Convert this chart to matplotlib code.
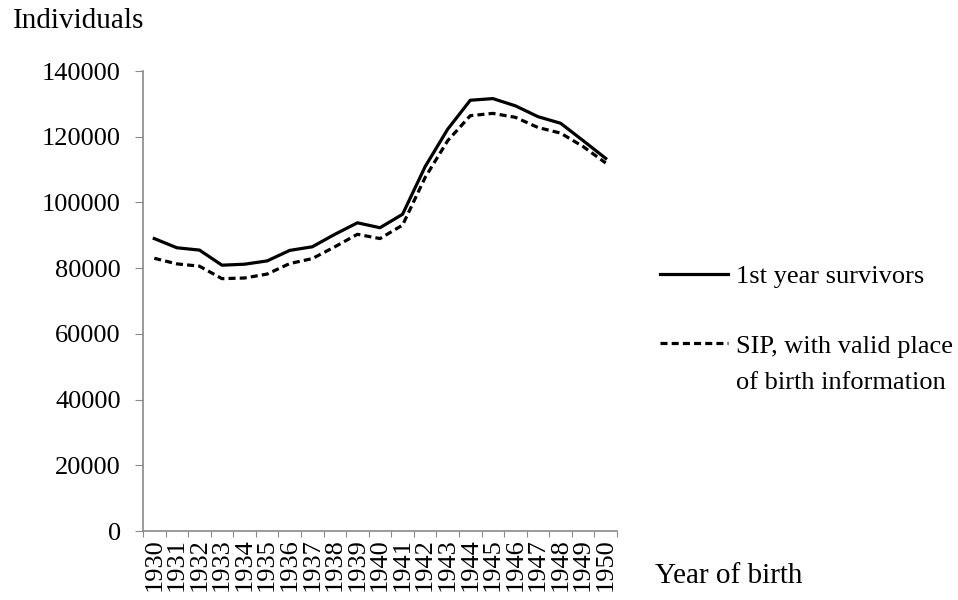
import matplotlib.pyplot as plt
import numpy as np

plt.rcParams['font.family'] = ['Liberation Serif', 'DejaVu Serif']

# year of birth categories
years = [str(y) for y in range(1930, 1951)]
# 1st year survivors
survivors = [89000, 86200, 85500, 80900, 81200, 82200, 85400, 86500, 90300, 93800,
             92300, 96400, 110900, 122300, 131100, 131600, 129400, 126100, 124100, 118800, 113400]
# SIP, with valid place of birth information
sip_valid = [83000, 81300, 80600, 76800, 77000, 78200, 81400, 82900, 86500, 90300,
             89000, 93100, 107600, 118800, 126400, 127100, 125900, 122800, 121100, 117000, 112000]
yticks = [0, 20000, 40000, 60000, 80000, 100000, 120000, 140000]

FS = 19
TITLE_FS = 21

fig = plt.figure(figsize=(9.58, 6), dpi=100)
ax = fig.add_axes([143/958, 1-531/600, (617-143)/958, (531-71)/600])

x = np.arange(len(years))
ax.plot(x, survivors, color='black', lw=2.3, label='1st year survivors')
ax.plot(x, sip_valid, color='black', lw=2.3, ls=(0, (2.2, 1.3)),
        label='SIP, with valid place')

ax.set_xlim(-0.5, len(years) - 0.5)
ax.set_ylim(0, 140000)
ax.set_yticks(yticks)
ax.set_yticklabels([str(v) for v in yticks], fontsize=FS)

# ticks at category boundaries, labels at centres
ax.set_xticks(np.arange(-0.5, len(years), 1.0))
ax.set_xticklabels([])
ax.set_xticks(x, minor=True)
ax.set_xticklabels(years, minor=True, rotation=90, fontsize=FS)
ax.tick_params(axis='x', which='major', length=4, color='#898989', direction='out')
ax.tick_params(axis='x', which='minor', length=0, pad=5)
ax.tick_params(axis='y', length=6, color='#898989', direction='out', pad=10)

for s in ['top', 'right']:
    ax.spines[s].set_visible(False)
for s in ['left', 'bottom']:
    ax.spines[s].set_color('#898989')
    ax.spines[s].set_linewidth(1.2)

fig.text(13/958, 1-21/600, 'Individuals', fontsize=TITLE_FS, va='center', ha='left')
fig.text(655/958, 1-576/600, 'Year of birth', fontsize=TITLE_FS, va='center', ha='left')

leg = fig.legend(loc='upper left', bbox_to_anchor=(660/958, 1-265/600), frameon=False,
                 fontsize=FS, handlelength=2.58, handletextpad=0.3, labelspacing=1.73,
                 borderpad=0, borderaxespad=0)
fig.text(736/958, 1-383/600, 'of birth information', fontsize=FS, va='center', ha='left')

fig.savefig('out.png', dpi=100)
